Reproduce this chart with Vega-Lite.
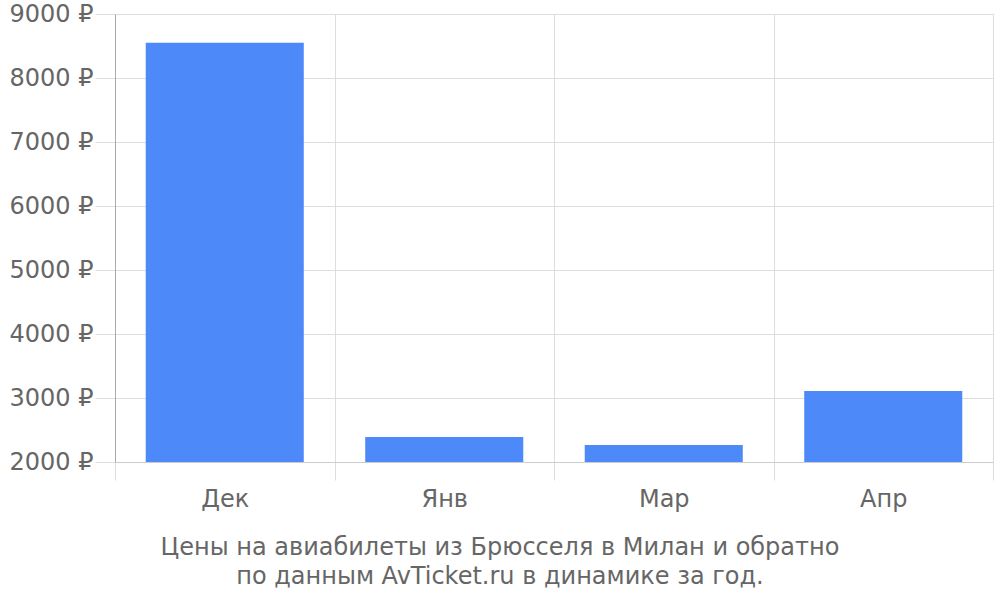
{
  "$schema": "https://vega.github.io/schema/vega-lite/v6.json",
  "width": 878,
  "height": 448,
  "autosize": "none",
  "padding": {"left": 115, "top": 14, "right": 7, "bottom": 138},
  "background": "white",
  "data": {
    "values": [
      {"month": "Дек", "price": 8550},
      {"month": "Янв", "price": 2390},
      {"month": "Мар", "price": 2265},
      {"month": "Апр", "price": 3110}
    ]
  },
  "title": {
    "text": ["Цены на авиабилеты из Брюсселя в Милан и обратно", "по данным AvTicket.ru в динамике за год."],
    "orient": "bottom",
    "anchor": "middle",
    "frame": "group",
    "dx": -54,
    "offset": 25,
    "font": "DejaVu Sans",
    "fontSize": 24,
    "fontWeight": "normal",
    "color": "#666666",
    "lineHeight": 29
  },
  "mark": {"type": "bar", "color": "#4d89f9", "clip": true, "width": {"band": 0.72}},
  "encoding": {
    "x": {
      "field": "month",
      "type": "nominal",
      "sort": null,
      "title": null,
      "scale": {"paddingInner": 0, "paddingOuter": 0},
      "axis": {
        "tickBand": "extent",
        "grid": true,
        "gridColor": "#dddddd",
        "tickColor": "#dddddd",
        "tickSize": 18,
        "domainColor": "#cccccc",
        "labelAngle": 0,
        "labelPadding": 7,
        "labelFontSize": 24,
        "labelColor": "#666666",
        "labelFont": "DejaVu Sans"
      }
    },
    "y": {
      "field": "price",
      "type": "quantitative",
      "title": null,
      "scale": {"domain": [2000, 9000], "zero": false, "nice": false},
      "axis": {
        "values": [2000, 3000, 4000, 5000, 6000, 7000, 8000, 9000],
        "labelExpr": "datum.value + ' ₽'",
        "grid": true,
        "gridColor": "#dddddd",
        "tickColor": "#dddddd",
        "tickSize": 20,
        "domainColor": "#aaaaaa",
        "labelPadding": 2,
        "labelFontSize": 24,
        "labelColor": "#666666",
        "labelFont": "DejaVu Sans"
      }
    }
  },
  "config": {
    "view": {"stroke": "#dddddd"}
  }
}
